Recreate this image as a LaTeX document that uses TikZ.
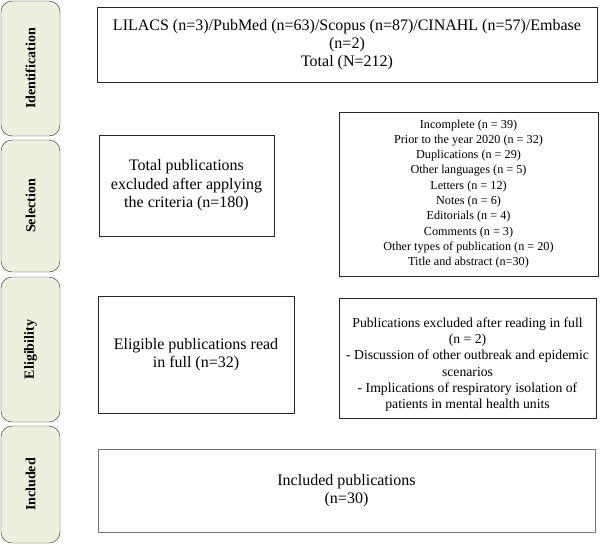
\documentclass[tikz,border=0pt]{standalone}
\usepackage{fontspec}
\setmainfont{Liberation Serif}
\usepackage{xcolor}
\definecolor{phasegreen}{HTML}{EBF1DE}
\tikzset{
    phase/.style={draw=black!85, fill=phasegreen, rounded corners=11pt, rotate=90, inner sep=0pt,
        font=\fontsize{14}{16}\selectfont\bfseries},
    record/.style={draw=black!85, fill=white, align=center, inner sep=0pt,
        font=\fontsize{16}{18.5}\selectfont},
    note/.style={record, font=\fontsize{12.2}{15.3}\selectfont}
}
\begin{document}
\begin{tikzpicture}[x=1pt, y=-1pt]
    \useasboundingbox (0,0) rectangle (604,546);
    % phases on the left
    \node[phase, minimum width=135pt, minimum height=59pt] (ident) at (30.5,68.5) {Identification};
    \node[phase, minimum width=132pt, minimum height=59pt] (select) at (30.5,206) {Selection};
    \node[phase, minimum width=145pt, minimum height=59pt] (elig) at (30.5,349.5) {Eligibility};
    \node[phase, minimum width=117pt, minimum height=59pt] (incl) at (30.5,484.5) {Included};
    % boxes
    \node[record, minimum width=500pt, minimum height=75pt, font=\fontsize{16}{18}\selectfont] (search) at (347,44.5)
        {LILACS (n=3)/PubMed (n=63)/Scopus (n=87)/CINAHL (n=57)/Embase\\(n=2)\\Total (N=212)};
    \node[record, minimum width=175pt, minimum height=101pt] (excluded) at (186.5,185.5)
        {Total publications\\excluded after applying\\the criteria (n=180)};
    \node[note, minimum width=259pt, minimum height=164pt] (reasons) at (468.5,194)
        {Incomplete (n = 39)\\Prior to the year 2020 (n = 32)\\Duplications (n = 29)\\Other languages (n = 5)\\
         Letters (n = 12)\\Notes (n = 6)\\Editorials (n = 4)\\Comments (n = 3)\\
         Other types of publication (n = 20)\\Title and abstract (n=30)};
    \node[note, minimum width=257pt, minimum height=120pt, font=\fontsize{13.7}{16.3}\selectfont] (fullread) at (467.5,358)
        {\rule{0pt}{23pt}Publications excluded after reading in full\\(n = 2)\\- Discussion of other outbreak and epidemic\\scenarios\\
         - Implications of respiratory isolation of\\patients in mental health units};
    \node[record, minimum width=196pt, minimum height=117pt] (eligible) at (196,354.5)
        {Eligible publications read\\in full (n=32)};
    \node[record, draw=black!55, line width=1pt, minimum width=497pt, minimum height=83pt] (included) at (346.5,490.5)
        {Included publications\\(n=30)};
\end{tikzpicture}
\end{document}
